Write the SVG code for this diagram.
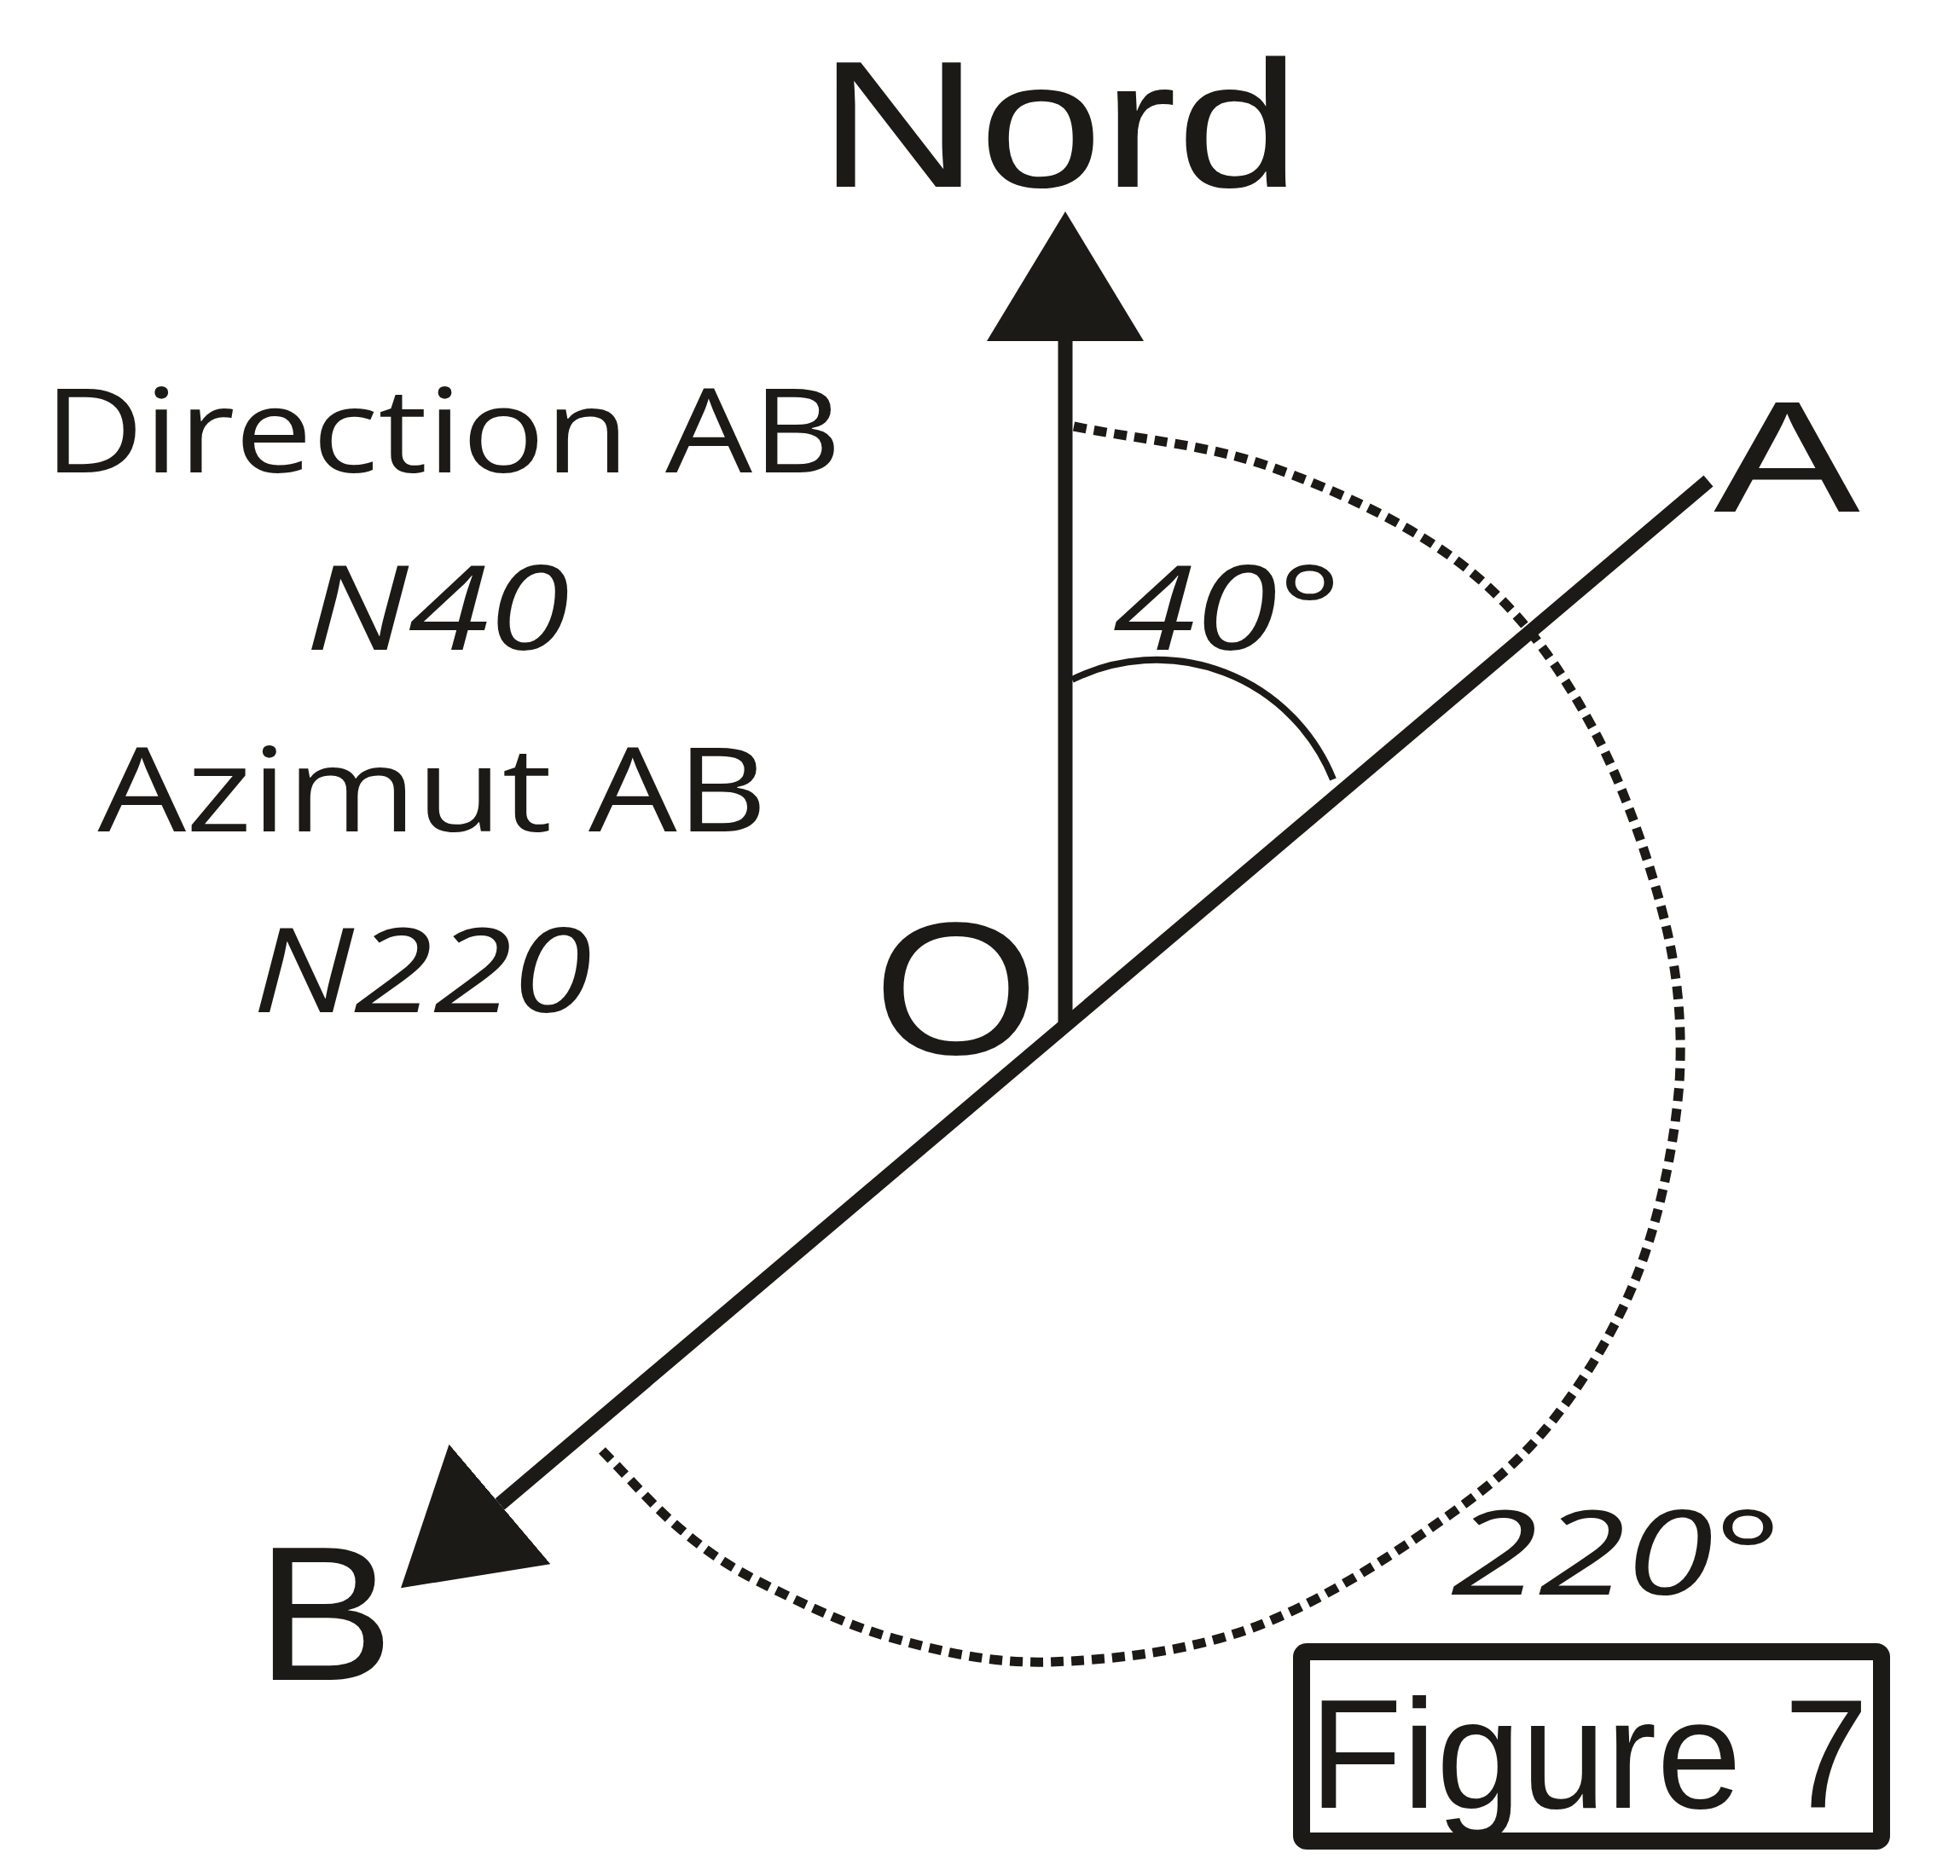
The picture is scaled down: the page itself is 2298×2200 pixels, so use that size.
<svg xmlns="http://www.w3.org/2000/svg" width="2298" height="2200" viewBox="0 0 2298 2200">
<style>
.bg{fill:#ffffff}
.ln{stroke:#1c1a17;stroke-width:17;fill:none;stroke-linecap:butt}
.thin{stroke:#1c1a17;stroke-width:8;fill:none}
.dash{stroke:#1c1a17;stroke-width:11;fill:none;stroke-dasharray:15 9}
.lbl{font-family:"Liberation Sans",Arial,sans-serif;fill:#1c1a17}
.txt{font-family:"Open Sans","Noto Sans",sans-serif;fill:#1c1a17;font-size:138px}
.it{font-style:italic}
.box{stroke:#1c1a17;stroke-width:20;fill:none}
</style>
<defs>
<marker id="arr" markerUnits="userSpaceOnUse" viewBox="0 0 152 184" markerWidth="152" markerHeight="184" refX="0" refY="92" orient="auto">
<path d="M0,0 L152,92 L0,184 Z" fill="#1c1a17"/>
</marker>
</defs>
<rect class="bg" x="0" y="0" width="2298" height="2200"/>
<g id="connectors">
<line class="ln" x1="1249" y1="1204" x2="1249" y2="400" marker-end="url(#arr)"/>
<line class="ln" x1="2003" y1="564" x2="586" y2="1764" marker-end="url(#arr)"/>
<path class="thin" d="M1257,797 A223,223 0 0 1 1563,914"/>
<path class="dash" d="M1259,500 C1337,516 1417,521 1494,549 C1572,577 1662,619 1724,670 C1786,721 1829,783 1867,853 C1905,923 1938,1021 1954,1089 C1970,1157 1972,1217 1969,1270 C1964,1333 1950,1409 1927,1475 C1904,1541 1866,1607 1825,1660 C1784,1713 1741,1748 1680,1790 C1619,1833 1535,1886 1460,1912 C1385,1938 1298,1947 1230,1949 C1162,1951 1105,1937 1050,1922 C995,1907 942,1881 900,1860 C858,1839 833,1823 800,1795 C767,1768 733,1728 700,1695"/>
</g>
<g id="nord"><text class="lbl" x="1242" y="219" font-size="212" text-anchor="middle" textLength="565" lengthAdjust="spacingAndGlyphs">Nord</text></g>
<g id="O"><text class="lbl" x="1121" y="1236" font-size="220" text-anchor="middle" textLength="194" lengthAdjust="spacingAndGlyphs">O</text></g>
<g id="A"><text class="lbl" x="2095" y="600" font-size="186" text-anchor="middle" textLength="172" lengthAdjust="spacingAndGlyphs">A</text></g>
<g id="B"><text class="lbl" x="381" y="1970" font-size="225" text-anchor="middle" textLength="162" lengthAdjust="spacingAndGlyphs">B</text></g>
<g id="info">
<text class="txt" x="519" y="554" text-anchor="middle" textLength="935" lengthAdjust="spacingAndGlyphs">Direction AB</text>
<text class="txt it" x="513" y="762" text-anchor="middle" textLength="310" lengthAdjust="spacingAndGlyphs">N40</text>
<text class="txt" x="507" y="975" text-anchor="middle" textLength="785" lengthAdjust="spacingAndGlyphs">Azimut AB</text>
<text class="txt it" x="495" y="1187" text-anchor="middle" textLength="398" lengthAdjust="spacingAndGlyphs">N220</text>
</g>
<g id="angle40"><text class="txt it" x="1439" y="762" text-anchor="middle" textLength="268" lengthAdjust="spacingAndGlyphs">40°</text></g>
<g id="angle220"><text class="txt it" x="1895" y="1870" font-size="158" text-anchor="middle" textLength="388" lengthAdjust="spacingAndGlyphs">220°</text></g>
<g id="figure">
<rect class="box" x="1526" y="1937" width="680" height="222" rx="6"/>
<text class="lbl" x="1535" y="2120" font-size="182" textLength="656" lengthAdjust="spacingAndGlyphs">Figure 7</text>
</g>
</svg>
